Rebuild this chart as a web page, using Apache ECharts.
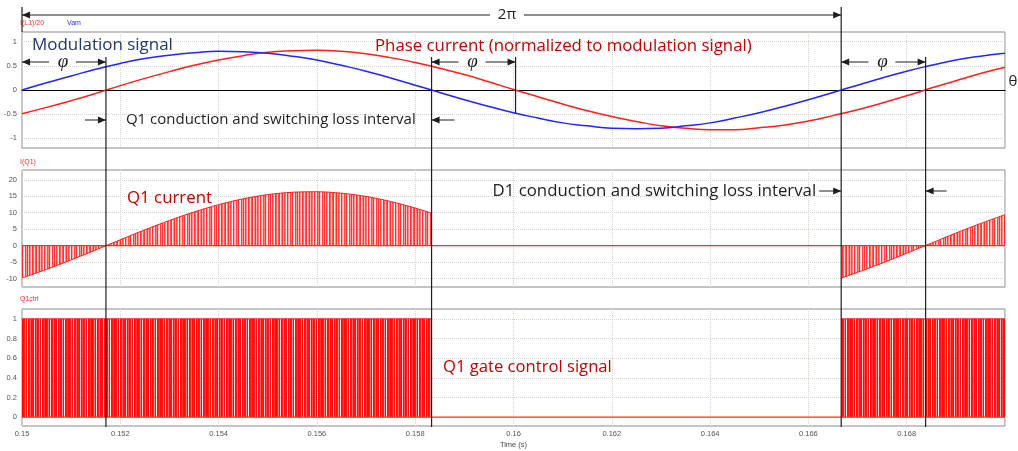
<!DOCTYPE html>
<html>
<head>
<meta charset="utf-8">
<script src="https://cdn.jsdelivr.net/npm/echarts@6/dist/echarts.min.js"></script>
<style>
html,body{margin:0;padding:0;background:#fff;}
#c{width:1018px;height:451px;}
</style>
</head>
<body>
<div id="c"></div>
<script>
// ---------- data ----------
const sampleTime = [0.1500,0.1505,0.1510,0.1515,0.1520,0.1525,0.1530,0.1535,0.1540,0.1545,0.1550,0.1555,0.1560,0.1565,0.1570,0.1575,0.1580,0.1585,0.1590,0.1595,0.1600,0.1605,0.1610,0.1615,0.1620,0.1625,0.1630,0.1635,0.1640,0.1645,0.1650,0.1655,0.1660,0.1665,0.1670,0.1675,0.1680,0.1685,0.1690,0.1695,0.1700];
const vam = [0,0.15,0.29,0.43,0.55,0.65,0.72,0.77,0.80,0.79,0.76,0.70,0.62,0.51,0.39,0.25,0.10,-0.05,-0.20,-0.34,-0.47,-0.58,-0.68,-0.74,-0.79,-0.80,-0.79,-0.74,-0.68,-0.58,-0.47,-0.34,-0.20,-0.05,0.10,0.25,0.39,0.51,0.62,0.70,0.76];
const phaseCurrentNorm = [-0.49,-0.36,-0.22,-0.07,0.09,0.24,0.38,0.51,0.62,0.71,0.78,0.81,0.82,0.80,0.75,0.67,0.57,0.45,0.32,0.17,0.01,-0.14,-0.29,-0.43,-0.55,-0.65,-0.74,-0.79,-0.82,-0.82,-0.78,-0.73,-0.64,-0.53,-0.41,-0.27,-0.12,0.04,0.19,0.34,0.47];

const q1TimeA = [0.1500,0.1505,0.1510,0.1515,0.1520,0.1525,0.1530,0.1535,0.1540,0.1545,0.1550,0.1555,0.1560,0.1565,0.1570,0.1575,0.1580,0.158333];
const q1CurrentA = [-9.87,-7.24,-4.36,-1.32,1.77,4.80,7.65,10.23,12.45,14.23,15.51,16.23,16.38,15.95,14.96,13.43,11.43,9.87];
const q1TimeC = [0.166667,0.1670,0.1675,0.1680,0.1685,0.1690,0.1695,0.1700];
const q1CurrentC = [-9.87,-8.15,-5.34,-2.34,0.74,3.80,6.71,9.41];

const gateTimeA = [0.1500,0.158333];
const gateA = [1,1];
const gateTimeC = [0.166667,0.1700];
const gateC = [1,1];
const zeroTime = [0.15,0.17];
const zeroVal = [0,0];

const modZeroCross = [0.15,0.158333,0.166667];
const curZeroCross = [0.151708,0.160042,0.168385];

const yTicksTop = [-1,-0.5,0,0.5,1];
const yTicksMid = [-10,-5,0,5,10,15,20];
const yTicksBot = [0,0.2,0.4,0.6,0.8,1];

// ---------- helpers ----------
const zip = (a,b) => a.map((v,i)=>[v,b[i]]);
function stripes(alphas){
  const c=document.createElement('canvas'); c.width=alphas.length; c.height=4;
  const g=c.getContext('2d');
  alphas.forEach((a,i)=>{g.fillStyle='rgba(255,0,0,'+a+')'; g.fillRect(i,0,1,4);});
  return c;
}
const curPattern = stripes([0.8,0.25,0.75,0.45,0.1,0.8,0.6,0.2,0.65,0.8,0.1,0.45,0.8,0.3,0.7,0.55,0.05,0.8,0.35,0.15,0.7,0.5,0.8,0.2,0.05,0.75,0.4]);
const gatePattern = stripes([0.95,0.9,0.5,0.95,0.15,0.95,0.9,0.6,0.95,0.9,0.95,0.2,0.95,0.7,0.95,0.9,0.4,0.95,0.05,0.95,0.9,0.8,0.95]);

const GRIDC = '#d6d6c8';
const gridLines = vals => ({silent:true,symbol:'none',z:1,label:{show:false},emphasis:{disabled:true},
  lineStyle:{type:'dotted',color:GRIDC,width:1},data:vals.map(v=>({yAxis:v}))});

const xFmt = v => String(+(+v).toFixed(3));
const labelStyle = {fontSize:7.5,color:'#555',fontFamily:'Liberation Sans'};

const chart = echarts.init(document.getElementById('c'));
const grids = [
  {left:22,right:13,top:32,height:116},
  {left:22,right:13,top:170,height:117},
  {left:22,right:13,top:309,height:117}
].map(g=>Object.assign(g,{show:true,borderColor:'#8a8a8a',borderWidth:1,containLabel:false}));

const option = {
  animation:false,
  grid:grids,
  xAxis:[0,1,2].map(i=>({
    type:'value',gridIndex:i,min:0.15,max:0.17,interval:0.002,
    axisLine:{show:i===0,onZero:true,lineStyle:{color:'#000',width:1}},
    axisTick:{show:false},
    axisLabel:Object.assign({show:i===2,formatter:xFmt,margin:4,showMaxLabel:false},labelStyle),
    splitLine:{show:true,lineStyle:{type:'dotted',color:GRIDC,width:1}},
    name:i===2?'Time (s)':'',nameLocation:'middle',nameGap:15,
    nameTextStyle:{fontSize:7.5,color:'#444',fontFamily:'Liberation Sans'}
  })),
  yAxis:[
    {gridIndex:0,min:-1.2,max:1.2,ticks:yTicksTop},
    {gridIndex:1,min:-12.6,max:23,ticks:yTicksMid},
    {gridIndex:2,min:-0.09,max:1.1,ticks:yTicksBot}
  ].map(a=>({
    type:'value',gridIndex:a.gridIndex,min:a.min,max:a.max,
    axisLine:{show:false},axisTick:{show:false},splitLine:{show:false},
    axisLabel:Object.assign({customValues:a.ticks,margin:5},labelStyle)
  })),
  series:[
    {type:'line',name:'I(L1)/20',xAxisIndex:0,yAxisIndex:0,data:zip(sampleTime,phaseCurrentNorm),
     smooth:true,showSymbol:false,lineStyle:{color:'#ff1f1f',width:1.5},markLine:gridLines([-1,-0.5,0.5,1])},
    {type:'line',name:'Vam',xAxisIndex:0,yAxisIndex:0,data:zip(sampleTime,vam),
     smooth:true,showSymbol:false,lineStyle:{color:'#2424ff',width:1.5}},
    {type:'line',xAxisIndex:1,yAxisIndex:1,data:zip(zeroTime,zeroVal),showSymbol:false,
     lineStyle:{color:'#ff2a2a',width:1.2},markLine:gridLines(yTicksMid.filter(v=>v!==0))},
    {type:'line',xAxisIndex:1,yAxisIndex:1,data:zip(q1TimeA,q1CurrentA),smooth:0.3,showSymbol:false,
     lineStyle:{color:'#ff1a1a',width:1},areaStyle:{color:{image:curPattern,repeat:'repeat'},opacity:1}},
    {type:'line',xAxisIndex:1,yAxisIndex:1,data:zip(q1TimeC,q1CurrentC),smooth:0.3,showSymbol:false,
     lineStyle:{color:'#ff1a1a',width:1},areaStyle:{color:{image:curPattern,repeat:'repeat'},opacity:1}},
    {type:'line',xAxisIndex:2,yAxisIndex:2,data:zip(zeroTime,zeroVal),showSymbol:false,
     lineStyle:{color:'#ff2a2a',width:1.2},markLine:gridLines(yTicksBot.filter(v=>v!==0))},
    {type:'line',xAxisIndex:2,yAxisIndex:2,data:zip(gateTimeA,gateA),showSymbol:false,
     lineStyle:{color:'#ff1a1a',width:1},areaStyle:{color:{image:gatePattern,repeat:'repeat'},opacity:1}},
    {type:'line',xAxisIndex:2,yAxisIndex:2,data:zip(gateTimeC,gateC),showSymbol:false,
     lineStyle:{color:'#ff1a1a',width:1},areaStyle:{color:{image:gatePattern,repeat:'repeat'},opacity:1}}
  ]
};
chart.setOption(option);

// ---------- annotations ----------
const X = t => chart.convertToPixel({xAxisIndex:0}, t);
const Y0 = v => chart.convertToPixel({yAxisIndex:0}, v);
const els = [];
const INK = '#1e1e1e';
function seg(x1,y1,x2,y2,color,w){els.push({type:'line',silent:true,z:100,shape:{x1,y1,x2,y2},style:{stroke:color||INK,lineWidth:w||1}});}
function arrowTo(xFrom,xTo,y){
  seg(xFrom,y,xTo,y,INK,1);
  const d = xTo>xFrom?1:-1;
  els.push({type:'polygon',silent:true,z:101,shape:{points:[[xTo,y],[xTo-d*8,y-3.5],[xTo-d*8,y+3.5]]},style:{fill:INK}});
}
const meas = document.createElement('canvas').getContext('2d');
function fit(text,width,family){meas.font='100px '+family; return 100*width/meas.measureText(text).width;}
function txt(text,x,y,opt){
  const o = Object.assign({fill:INK,family:'"Open Sans"',align:'left',size:14,style:'normal'},opt||{});
  if(o.width) o.size = fit(text,o.width,o.family);
  els.push({type:'text',silent:true,z:102,x,y,style:{text,fill:o.fill,fontSize:o.size,fontFamily:o.family,fontStyle:o.style,align:o.align,verticalAlign:'middle'}});
}

const bottomY = 427, phiY = 62;
// vertical marker lines
seg(X(modZeroCross[0]),7,X(modZeroCross[0]),32,INK,1.2);
[curZeroCross[0],modZeroCross[1],curZeroCross[2]].forEach(t=>seg(X(t),57,X(t),bottomY,INK,1.2));
seg(X(modZeroCross[2]),7,X(modZeroCross[2]),bottomY,INK,1.2);
seg(X(curZeroCross[1]),57,X(curZeroCross[1]),Y0(-0.48),INK,1.2);

// 2π arrow
arrowTo(490,X(modZeroCross[0]),15);
arrowTo(524,X(modZeroCross[2]),15);
txt('2π',507,15,{align:'center',size:15});

// φ arrows
for(let i=0;i<3;i++){
  const xa=X(modZeroCross[i]), xb=X(curZeroCross[i]), m=(xa+xb)/2;
  arrowTo(m-15,xa,phiY); arrowTo(m+12,xb,phiY);
  txt('φ',m-1,phiY,{align:'center',size:19,family:'"Liberation Serif"',style:'italic'});
}

// interval arrows
const q1s=X(curZeroCross[0]), q1e=X(modZeroCross[1]);
arrowTo(q1s-21,q1s,120); arrowTo(q1e+23,q1e,120);
txt('Q1 conduction and switching loss interval',q1s+20,120,{width:290});
const d1s=X(modZeroCross[2]), d1e=X(curZeroCross[2]);
arrowTo(d1s-22,d1s,191); arrowTo(d1e+21,d1e,191);
txt('D1 conduction and switching loss interval',d1s-25,191,{align:'right',width:324});

// labels
txt('Modulation signal',32,45,{width:141,fill:'#1f3864'});
txt('Phase current (normalized to modulation signal)',375,46,{width:377,fill:'#c00000'});
txt('Q1 current',127,198,{width:85,fill:'#c00000'});
txt('Q1 gate control signal',443,367,{width:169,fill:'#c00000'});
txt('θ',1013,82,{align:'center',size:15});

// trace headers
const hdr = (t,x,y,c)=>els.push({type:'text',silent:true,z:99,x,y,style:{text:t,fill:c,fontSize:7,fontFamily:'Liberation Sans',align:'left',verticalAlign:'middle'}});
hdr('I(L1)/20',20,23,'#ff3030');
hdr('Vam',67,23,'#3030ff');
hdr('I(Q1)',20,162,'#ff3030');
hdr('Q1ctrl',20,299,'#ff3030');

chart.setOption({graphic:{elements:els}});
</script>
</body>
</html>
